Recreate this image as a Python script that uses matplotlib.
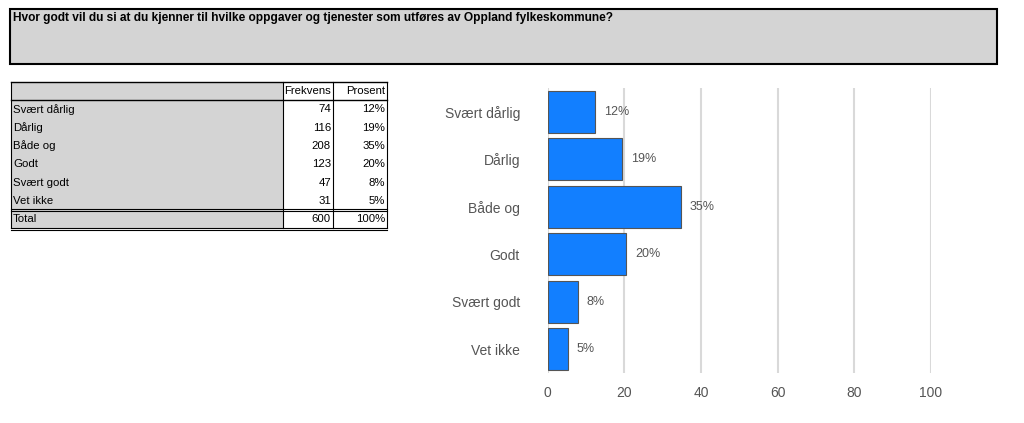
import matplotlib.pyplot as plt
from matplotlib.patches import Rectangle

plt.rcParams['font.family'] = ['Liberation Sans', 'DejaVu Sans']

title = "Hvor godt vil du si at du kjenner til hvilke oppgaver og tjenester som utføres av Oppland fylkeskommune?"
categories = ["Svært dårlig", "Dårlig", "Både og", "Godt", "Svært godt", "Vet ikke"]
frekvens = [74, 116, 208, 123, 47, 31]
prosent_txt = ["12%", "19%", "35%", "20%", "8%", "5%"]
total = 600
xticks = [0, 20, 40, 60, 80, 100]

prosent = [f / total * 100 for f in frekvens]

W, H = 1024, 423
fig = plt.figure(figsize=(W / 100, H / 100), dpi=100)

# background layer in pixel coordinates for the title box and the table
bg = fig.add_axes([0, 0, 1, 1])
bg.set_xlim(0, W)
bg.set_ylim(H, 0)
bg.axis('off')

# title box
bg.add_patch(Rectangle((10, 9), 987, 55, facecolor='#d4d4d4', edgecolor='black', lw=1.5))
bg.text(13, 18, title, fontsize=8.6, fontweight='bold', va='center', ha='left')

# table
x0, xc1, xc2, x3 = 11, 283, 333, 387
top, rh = 82, 18.3
nrow = len(categories) + 2
bottom = top + rh * nrow
# gray label column
bg.add_patch(Rectangle((x0, top), xc1 - x0, rh * nrow, facecolor='#d4d4d4', edgecolor='none'))
# horizontal lines
bg.plot([x0, x3], [top, top], color='black', lw=1)
bg.plot([x0, x3], [top + rh, top + rh], color='black', lw=1)
ytot = top + rh * (nrow - 1)
bg.plot([x0, x3], [ytot - 1, ytot - 1], color='black', lw=0.8)
bg.plot([x0, x3], [ytot + 1, ytot + 1], color='black', lw=0.8)
bg.plot([x0, x3], [bottom, bottom], color='black', lw=0.8)
bg.plot([x0, x3], [bottom + 2, bottom + 2], color='black', lw=0.8)
# vertical lines
for xv in [x0, xc1, xc2, x3]:
    bg.plot([xv, xv], [top, bottom], color='black', lw=0.8)

fs_tab = 8.2
bg.text(xc2 - 2, top + rh / 2, "Frekvens", fontsize=fs_tab, ha='right', va='center')
bg.text(x3 - 2, top + rh / 2, "Prosent", fontsize=fs_tab, ha='right', va='center')
rows = list(zip(categories, frekvens, prosent_txt)) + [("Total", total, "100%")]
for i, (lab, f, p) in enumerate(rows):
    yc = top + rh * (i + 1.5)
    bg.text(x0 + 2, yc, lab, fontsize=fs_tab, ha='left', va='center')
    bg.text(xc2 - 2, yc, str(f), fontsize=fs_tab, ha='right', va='center')
    bg.text(x3 - 2, yc, p, fontsize=fs_tab, ha='right', va='center')

# bar chart
ax = fig.add_axes([547.7 / W, (H - 373) / H, (931 - 547.7) / W, (373 - 88) / H])
ypos = list(range(len(categories)))
ax.barh(ypos, prosent, height=0.89, color='#127fff', edgecolor='#555555', lw=0.8, zorder=3)
ax.set_xlim(0, 100)
ax.set_ylim(len(categories) - 0.5, -0.5)
ax.set_xticks(xticks)
ax.set_yticks(ypos)
ax.set_yticklabels(categories)
ax.tick_params(axis='both', length=0, labelcolor='#555555', labelsize=10)
ax.tick_params(axis='y', pad=20)
ax.tick_params(axis='x', pad=9)
ax.grid(axis='x', color='#d9d9d9', lw=1.5, zorder=0)
for s in ax.spines.values():
    s.set_visible(False)
for y, v, t in zip(ypos, prosent, prosent_txt):
    ax.text(v + 2.3, y, t, fontsize=9, color='#555555', va='center', ha='left')

fig.savefig('out.png', dpi=100)
